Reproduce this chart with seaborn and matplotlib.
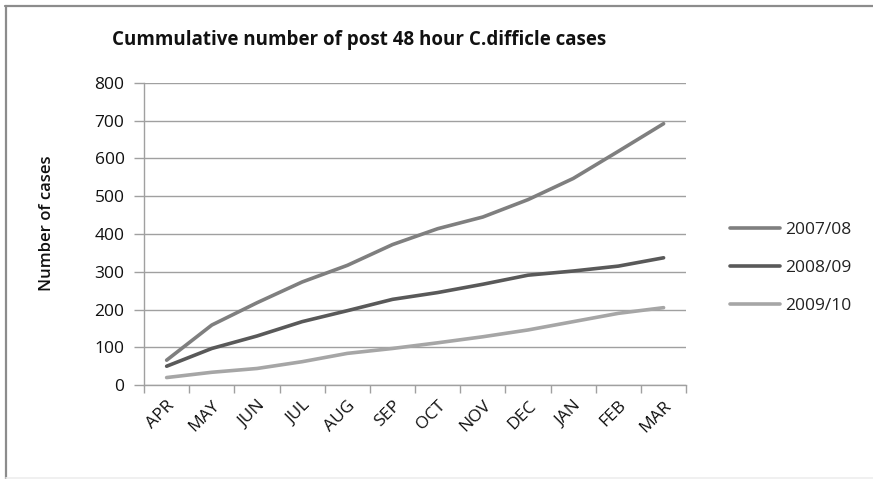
import matplotlib
matplotlib.use("Agg")
import matplotlib.pyplot as plt
from matplotlib.lines import Line2D
import numpy as np
import pandas as pd
import seaborn as sns

months = ["APR", "MAY", "JUN", "JUL", "AUG", "SEP", "OCT", "NOV", "DEC", "JAN", "FEB", "MAR"]
seasons = ["2007/08", "2008/09", "2009/10"]
cases_2007_08 = [66, 159, 218, 273, 317, 372, 414, 445, 491, 547, 619, 692]
cases_2008_09 = [50, 97, 130, 168, 197, 227, 245, 267, 291, 302, 315, 337]
cases_2009_10 = [20, 34, 44, 62, 84, 97, 112, 128, 146, 168, 190, 205]
y_ticks = [0, 100, 200, 300, 400, 500, 600, 700, 800]

colors = ["#7f7f7f", "#595959", "#a6a6a6"]

frames = []
for season, vals in zip(seasons, [cases_2007_08, cases_2008_09, cases_2009_10]):
    frames.append(pd.DataFrame({"pos": np.arange(len(months)), "cases": vals, "season": season}))
df = pd.concat(frames, ignore_index=True)

sns.set_theme(style="white")
plt.rcParams["font.family"] = ["Open Sans", "DejaVu Sans"]

fig = plt.figure(figsize=(8.73, 4.79), dpi=100)
ax = fig.add_axes([0.165, 0.196, 0.621, 0.631])

sns.lineplot(data=df, x="pos", y="cases", hue="season", palette=colors,
             linewidth=2.6, ax=ax, legend=False, solid_capstyle="round")

grid_c = "#a0a0a0"
text_c = "#111111"
ax.set_xlim(-0.5, len(months) - 0.5)
ax.set_ylim(0, 800)
ax.set_yticks(y_ticks)
ax.set_yticklabels([str(t) for t in y_ticks], fontsize=12.5, color=text_c)
ax.yaxis.grid(True, color=grid_c, linewidth=1)
ax.set_axisbelow(True)

ax.set_xticks(np.arange(len(months)))
ax.set_xticklabels(months, rotation=45, ha="right", rotation_mode="anchor",
                   fontsize=12.5, color=text_c)
ax.set_xticks(np.arange(-0.5, len(months)), minor=True)
ax.tick_params(axis="x", which="major", length=0, pad=9)
ax.tick_params(axis="x", which="minor", length=6, width=1, color=grid_c, direction="out", bottom=True)
ax.tick_params(axis="y", length=7, width=1, color=grid_c, direction="out", left=True, pad=7)

for side in ["top", "right"]:
    ax.spines[side].set_visible(False)
for side in ["left", "bottom"]:
    ax.spines[side].set_color(grid_c)
    ax.spines[side].set_linewidth(1)

ax.set_xlabel("")
ax.set_ylabel("Number of cases", fontsize=12, color=text_c, fontweight="semibold")
ax.yaxis.set_label_coords(-0.165, 0.536)

fig.text(0.411, 1 - 40 / 479, "Cummulative number of post 48 hour C.difficle cases",
         ha="center", va="center", fontsize=13.5, fontweight="bold", color=text_c)

handles = [Line2D([0], [0], color=c, linewidth=2.6) for c in colors]
fig.legend(handles, seasons, loc="center left", bbox_to_anchor=(0.818, 0.44),
           frameon=False, fontsize=12.5, handlelength=2.9, handletextpad=0.3,
           labelspacing=1.25, labelcolor="#222222")

# outer chart frame
fig.add_artist(Line2D([5 / 873, 1], [1 - 5.5 / 479] * 2, transform=fig.transFigure,
                      color="#8c8c8c", linewidth=1.6))
fig.add_artist(Line2D([6 / 873] * 2, [0, 1 - 5.5 / 479], transform=fig.transFigure,
                      color="#8c8c8c", linewidth=1.6))
fig.add_artist(Line2D([6 / 873, 1], [1.5 / 479] * 2, transform=fig.transFigure,
                      color="#eeeeee", linewidth=1.2))

fig.savefig("out.png", dpi=100)
